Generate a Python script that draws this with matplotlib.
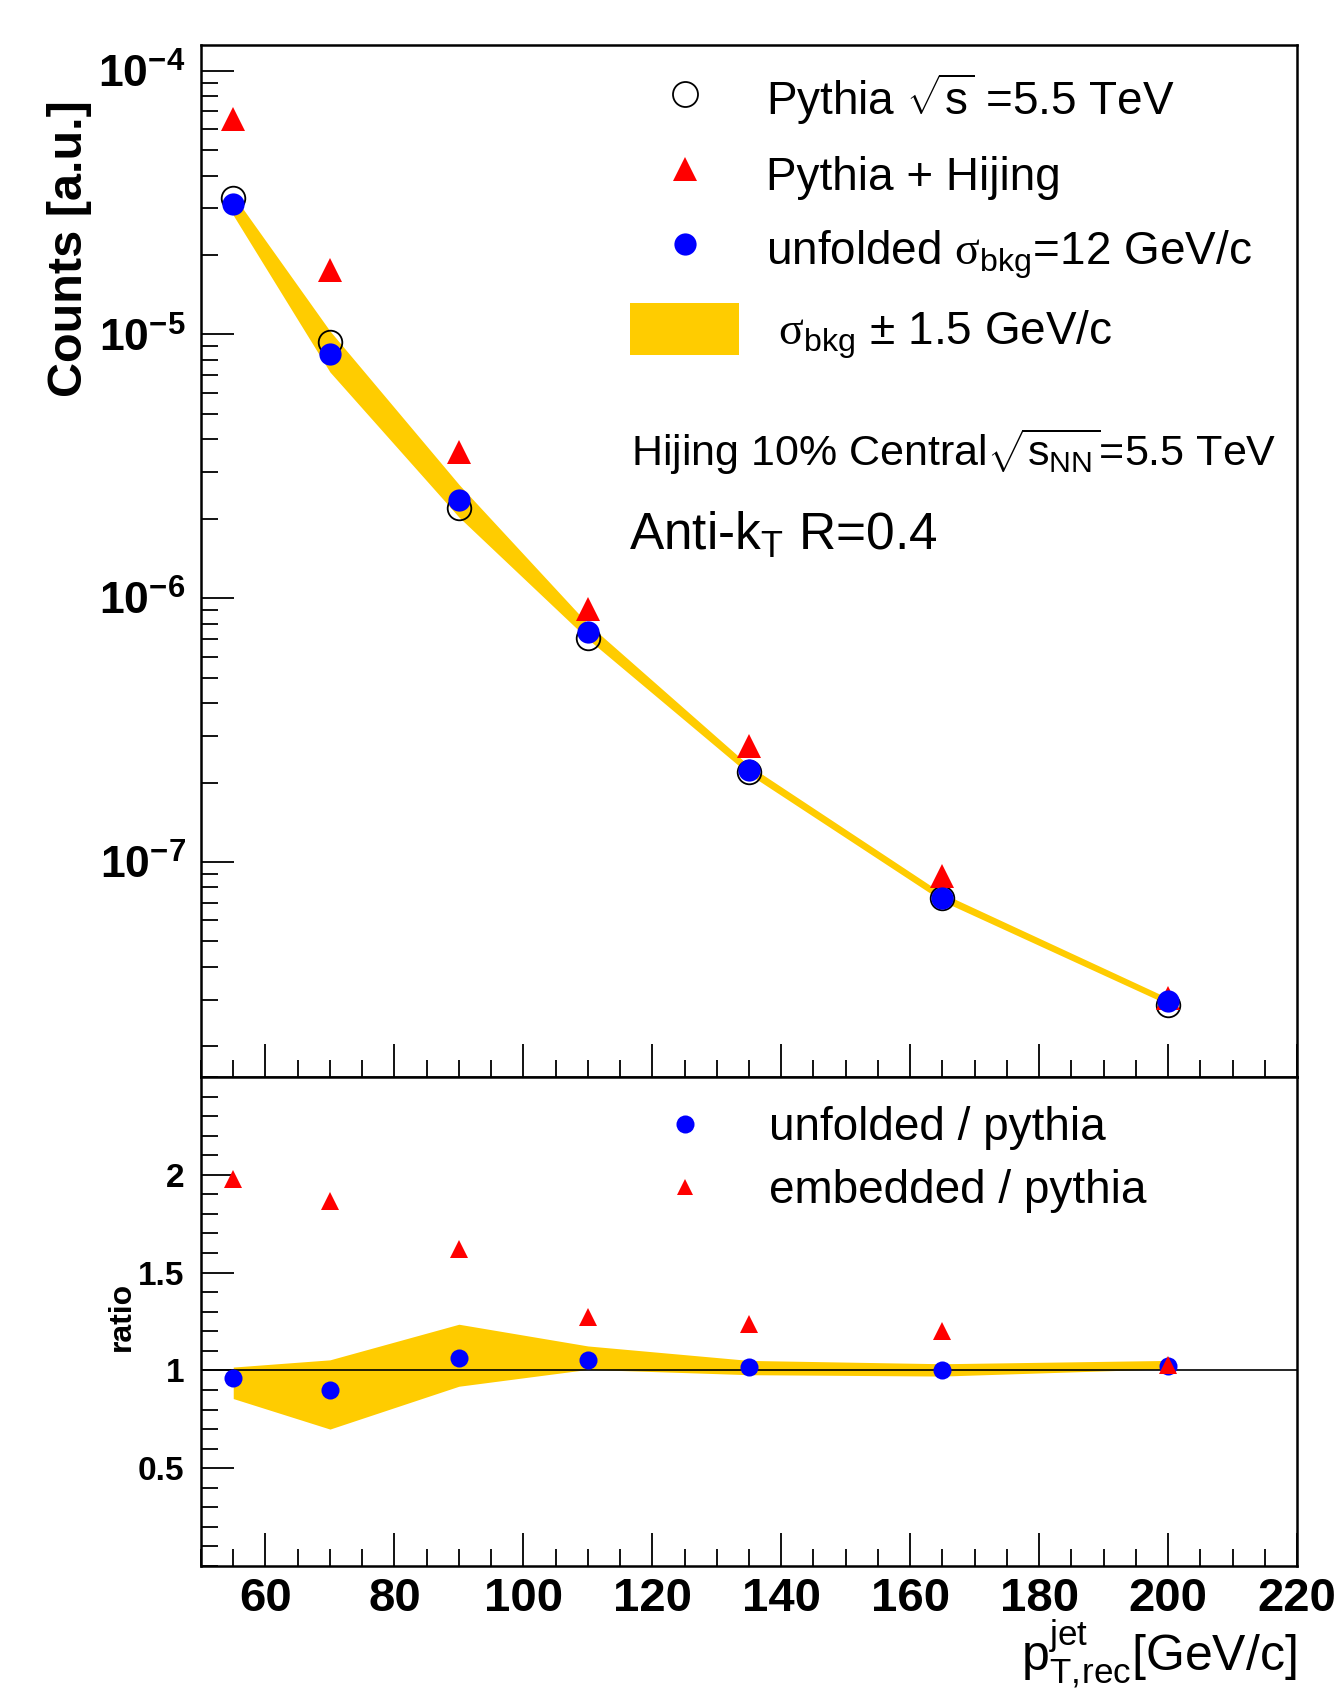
import numpy as np
import matplotlib
matplotlib.use('Agg')
import matplotlib.pyplot as plt
import matplotlib.ticker as mticker
from matplotlib.lines import Line2D
from matplotlib.patches import Patch

plt.rcParams['font.family'] = ['Liberation Sans', 'DejaVu Sans']
plt.rcParams['mathtext.fontset'] = 'custom'
plt.rcParams['mathtext.rm'] = 'Liberation Sans'
plt.rcParams['mathtext.it'] = 'Liberation Sans:italic'
plt.rcParams['mathtext.bf'] = 'Liberation Sans:bold'
plt.rcParams['mathtext.sf'] = 'Liberation Serif'

# jet pT bins [GeV/c]
pt = [55, 70, 90, 110, 135, 165, 200]

# spectra [a.u.]
pythia = [3.28e-5, 9.35e-6, 2.19e-6, 7.05e-7, 2.19e-7, 7.31e-8, 2.88e-8]
embedded = [6.56e-5, 1.75e-5, 3.58e-6, 9.07e-7, 2.75e-7, 8.83e-8, 3.05e-8]
unfolded = [3.13e-5, 8.40e-6, 2.35e-6, 7.45e-7, 2.23e-7, 7.30e-8, 2.97e-8]
band_lo = [2.83e-5, 7.20e-6, 2.03e-6, 7.00e-7, 2.15e-7, 7.10e-8, 2.88e-8]
band_hi = [3.37e-5, 1.03e-5, 2.70e-6, 8.00e-7, 2.32e-7, 7.60e-8, 3.05e-8]

# ratios to pythia
ratio_unf = [0.961, 0.898, 1.064, 1.053, 1.017, 1.003, 1.025]
ratio_emb = [1.978, 1.867, 1.620, 1.275, 1.237, 1.203, 1.030]
ratio_lo = [0.856, 0.700, 0.919, 1.005, 0.978, 0.971, 1.008]
ratio_hi = [1.017, 1.054, 1.236, 1.125, 1.051, 1.034, 1.051]

gold = '#ffcc00'
W, H = 1335, 1688
fig = plt.figure(figsize=(W / 100, H / 100), dpi=100)

L, R = 201, 1297
ax1 = fig.add_axes([L / W, 1 - 1077 / H, (R - L) / W, (1077 - 45) / H])
ax2 = fig.add_axes([L / W, 1 - 1566 / H, (R - L) / W, (1566 - 1077) / H])

# ---- top panel ----
ax1.fill_between(pt, band_lo, band_hi, color=gold, lw=0, zorder=1)
ax1.plot(pt, pythia, ls='none', marker='o', ms=17, mfc='none', mec='k', mew=1.3, zorder=3)
ax1.plot(pt, embedded, ls='none', marker='^', ms=17, color='red', mew=0, zorder=4)
ax1.plot(pt, unfolded, ls='none', marker='o', ms=16, color='blue', mew=0, zorder=5)
ax1.set_yscale('log')
ax1.set_xlim(50, 220)
ax1.set_ylim(1.53e-8, 1.25e-4)
ax1.yaxis.set_major_locator(mticker.FixedLocator([1e-7, 1e-6, 1e-5, 1e-4]))
ax1.yaxis.set_major_formatter(mticker.FuncFormatter(
    lambda v, p: r'$\mathbf{10^{%d}}$' % int(round(np.log10(v)))))
ax1.yaxis.set_minor_locator(mticker.LogLocator(base=10, subs=np.arange(2, 10)))
ax1.yaxis.set_minor_formatter(mticker.NullFormatter())
ax1.xaxis.set_major_locator(mticker.MultipleLocator(20))
ax1.xaxis.set_minor_locator(mticker.MultipleLocator(5))
ax1.tick_params(axis='x', labelbottom=False)
ax1.tick_params(axis='y', labelsize=32, pad=11)

# ---- ratio panel ----
ax2.fill_between(pt, ratio_lo, ratio_hi, color=gold, lw=0, zorder=1)
ax2.axhline(1, color='k', lw=1.2, zorder=2)
ax2.plot(pt, ratio_unf, ls='none', marker='o', ms=13, color='blue', mew=0, zorder=3)
ax2.plot(pt, ratio_emb, ls='none', marker='^', ms=12.5, color='red', mew=0, zorder=4)
ax2.set_xlim(50, 220)
ax2.set_ylim(0, 2.5)
ax2.yaxis.set_major_locator(mticker.FixedLocator([0.5, 1, 1.5, 2]))
ax2.yaxis.set_major_formatter(mticker.FuncFormatter(lambda v, p: '%g' % v))
ax2.yaxis.set_minor_locator(mticker.MultipleLocator(0.1))
ax2.xaxis.set_major_locator(mticker.MultipleLocator(20))
ax2.xaxis.set_minor_locator(mticker.MultipleLocator(5))
ax2.tick_params(axis='x', labelsize=34, pad=8)
ax2.tick_params(axis='y', labelsize=24, pad=12)
for lab in ax2.get_xticklabels() + ax2.get_yticklabels():
    lab.set_fontweight('bold')

for ax in (ax1, ax2):
    ax.tick_params(which='both', direction='in', top=False, right=False, width=1.3)
    ax.tick_params(which='major', length=24)
    ax.tick_params(which='minor', length=12)
    for s in ax.spines.values():
        s.set_linewidth(1.8)

# ---- legends ----
h_top = [Line2D([], [], ls='none', marker='o', ms=18, mfc='none', mec='k', mew=1.3),
         Line2D([], [], ls='none', marker='^', ms=17, color='red', mew=0),
         Line2D([], [], ls='none', marker='o', ms=16, color='blue', mew=0),
         Patch(facecolor=gold, edgecolor='none')]
l_top = [r'Pythia $\sqrt{\mathrm{s}}$ =5.5 TeV',
         'Pythia + Hijing',
         r'unfolded $\mathsf{\sigma}_{\mathrm{bkg}}$=12 GeV/c',
         r' $\mathsf{\sigma}_{\mathrm{bkg}}$ $\pm$ 1.5 GeV/c']
ax1.legend(h_top, l_top, loc='upper left', bbox_to_anchor=(630 / W, 1 - 71 / H),
           bbox_transform=fig.transFigure, frameon=False, fontsize=33,
           handlelength=2.38, handleheight=1.4, handletextpad=0.58,
           labelspacing=0.47, borderpad=0, borderaxespad=0, numpoints=1)

h_bot = [Line2D([], [], ls='none', marker='o', ms=13, color='blue', mew=0),
         Line2D([], [], ls='none', marker='^', ms=12, color='red', mew=0)]
l_bot = ['unfolded / pythia', 'embedded / pythia']
ax2.legend(h_bot, l_bot, loc='upper left', bbox_to_anchor=(630 / W, 1 - 1106 / H),
           bbox_transform=fig.transFigure, frameon=False, fontsize=33,
           handlelength=2.38, handletextpad=0.66, labelspacing=0.42,
           borderpad=0, borderaxespad=0, numpoints=1)

fig.text(631 / W, 1 - 452 / H, r'Hijing 10% Central$\sqrt{\mathrm{s}_{\mathrm{NN}}}$=5.5 TeV',
         fontsize=31, ha='left', va='center')
fig.text(629 / W, 1 - 535 / H, r'Anti-k$_{\mathrm{T}}$ R=0.4', fontsize=37, ha='left', va='center')

fig.text(70 / W, 1 - 249 / H, 'Counts [a.u.]', rotation=90, fontsize=35,
         fontweight='bold', ha='center', va='center')
fig.text(122 / W, 1 - 1316 / H, 'ratio', rotation=90, fontsize=23,
         fontweight='bold', ha='center', va='center')
fig.text(R / W, 1 - 1670 / H, r'$\mathrm{p}_{\mathrm{T,\!rec}}^{\mathrm{jet}}$[GeV/c]',
         fontsize=36, ha='right', va='baseline')

fig.savefig('out.png', dpi=100)
